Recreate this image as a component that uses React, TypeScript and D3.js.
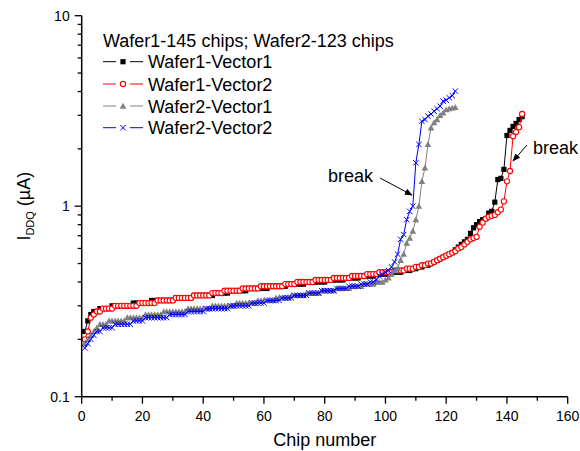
import React from "react";
import * as d3 from "d3";

// ---------- data ----------
const w1v1: number[] = [
  0.22, 0.25, 0.27, 0.28, 0.28, 0.29, 0.29, 0.29, 0.29, 0.30,
  0.30, 0.30, 0.30, 0.30, 0.30, 0.30, 0.31, 0.31, 0.31, 0.31,
  0.31, 0.31, 0.32, 0.32, 0.32, 0.32, 0.32, 0.32, 0.32, 0.32,
  0.33, 0.33, 0.33, 0.33, 0.33, 0.33, 0.34, 0.34, 0.34, 0.34,
  0.34, 0.34, 0.34, 0.35, 0.35, 0.35, 0.35, 0.35, 0.36, 0.36,
  0.36, 0.36, 0.36, 0.36, 0.37, 0.37, 0.37, 0.37, 0.37, 0.37,
  0.37, 0.38, 0.38, 0.38, 0.38, 0.38, 0.38, 0.39, 0.39, 0.39,
  0.39, 0.39, 0.39, 0.40, 0.40, 0.40, 0.40, 0.40, 0.40, 0.40,
  0.41, 0.41, 0.41, 0.41, 0.41, 0.41, 0.42, 0.42, 0.42, 0.42,
  0.42, 0.43, 0.43, 0.43, 0.43, 0.43, 0.44, 0.44, 0.44, 0.44,
  0.44, 0.45, 0.45, 0.45, 0.45, 0.46, 0.46, 0.46, 0.47, 0.47,
  0.48, 0.48, 0.49, 0.49, 0.50, 0.51, 0.52, 0.53, 0.54, 0.55,
  0.56, 0.57, 0.59, 0.61, 0.63, 0.65, 0.67, 0.72, 0.77, 0.80,
  0.83, 0.85, 0.86, 0.92, 0.94, 1.05, 1.38, 1.40, 1.56, 2.35,
  2.50, 2.62, 2.72, 2.85, 2.95,
];

const w1v2: number[] = [
  0.20, 0.22, 0.26, 0.27, 0.28, 0.28, 0.29, 0.29, 0.29, 0.29,
  0.30, 0.30, 0.30, 0.30, 0.30, 0.30, 0.30, 0.30, 0.31, 0.31,
  0.31, 0.31, 0.31, 0.31, 0.32, 0.32, 0.32, 0.32, 0.32, 0.32,
  0.33, 0.33, 0.33, 0.33, 0.33, 0.33, 0.34, 0.34, 0.34, 0.34,
  0.34, 0.34, 0.35, 0.35, 0.35, 0.35, 0.36, 0.36, 0.36, 0.36,
  0.36, 0.36, 0.37, 0.37, 0.37, 0.37, 0.37, 0.37, 0.38, 0.38,
  0.38, 0.38, 0.38, 0.38, 0.38, 0.38, 0.39, 0.39, 0.39, 0.39,
  0.40, 0.40, 0.40, 0.40, 0.40, 0.40, 0.41, 0.41, 0.41, 0.41,
  0.41, 0.41, 0.42, 0.42, 0.42, 0.42, 0.42, 0.42, 0.43, 0.43,
  0.43, 0.43, 0.43, 0.44, 0.44, 0.44, 0.44, 0.45, 0.45, 0.45,
  0.45, 0.45, 0.46, 0.46, 0.46, 0.46, 0.47, 0.47, 0.47, 0.48,
  0.48, 0.49, 0.49, 0.50, 0.50, 0.51, 0.52, 0.53, 0.54, 0.55,
  0.56, 0.57, 0.58, 0.60, 0.61, 0.63, 0.65, 0.67, 0.68, 0.69,
  0.78, 0.82, 0.86, 0.88, 0.89, 0.90, 0.93, 0.96, 1.06, 1.35,
  1.53, 2.33, 2.45, 2.60, 3.05,
];

const w2v1: number[] = [
  0.19, 0.20, 0.21, 0.22, 0.23, 0.24, 0.24, 0.24, 0.25, 0.25,
  0.25, 0.25, 0.25, 0.25, 0.26, 0.26, 0.26, 0.26, 0.26, 0.26,
  0.27, 0.27, 0.27, 0.27, 0.27, 0.27, 0.28, 0.28, 0.28, 0.28,
  0.28, 0.28, 0.28, 0.28, 0.29, 0.29, 0.29, 0.29, 0.29, 0.29,
  0.29, 0.29, 0.30, 0.30, 0.30, 0.30, 0.30, 0.30, 0.30, 0.30,
  0.31, 0.31, 0.31, 0.31, 0.31, 0.31, 0.31, 0.32, 0.32, 0.32,
  0.32, 0.32, 0.32, 0.33, 0.33, 0.33, 0.33, 0.33, 0.34, 0.34,
  0.34, 0.34, 0.34, 0.35, 0.35, 0.35, 0.35, 0.35, 0.36, 0.36,
  0.36, 0.36, 0.36, 0.37, 0.37, 0.37, 0.37, 0.37, 0.38, 0.38,
  0.38, 0.38, 0.39, 0.39, 0.39, 0.39, 0.40, 0.40, 0.40, 0.41,
  0.42, 0.44, 0.46, 0.47, 0.52, 0.56, 0.64, 0.68, 0.74, 0.85,
  1.00, 1.35, 1.59, 2.11, 2.58, 2.75, 2.85, 3.00, 3.09, 3.21,
  3.25, 3.28, 3.30,
];

const w2v2: number[] = [
  0.18, 0.19, 0.20, 0.21, 0.22, 0.22, 0.23, 0.23, 0.23, 0.23,
  0.24, 0.24, 0.24, 0.24, 0.24, 0.24, 0.25, 0.25, 0.25, 0.25,
  0.26, 0.26, 0.26, 0.26, 0.26, 0.26, 0.26, 0.26, 0.27, 0.27,
  0.27, 0.27, 0.27, 0.27, 0.28, 0.28, 0.28, 0.28, 0.28, 0.28,
  0.29, 0.29, 0.29, 0.29, 0.29, 0.29, 0.29, 0.29, 0.30, 0.30,
  0.30, 0.30, 0.30, 0.30, 0.30, 0.31, 0.31, 0.31, 0.31, 0.31,
  0.32, 0.32, 0.32, 0.32, 0.32, 0.33, 0.33, 0.33, 0.33, 0.34,
  0.34, 0.34, 0.34, 0.34, 0.35, 0.35, 0.35, 0.35, 0.36, 0.36,
  0.36, 0.36, 0.36, 0.37, 0.37, 0.37, 0.37, 0.38, 0.38, 0.38,
  0.38, 0.39, 0.39, 0.39, 0.40, 0.40, 0.41, 0.43, 0.44, 0.45,
  0.46, 0.48, 0.51, 0.56, 0.67, 0.71, 0.85, 0.94, 1.00, 1.69,
  2.11, 2.79, 2.85, 2.97, 3.05, 3.15, 3.25, 3.35, 3.56, 3.60,
  3.71, 3.80, 4.02,
];

const xTicks = [0, 20, 40, 60, 80, 100, 120, 140, 160];
const xMinorTicks = [10, 30, 50, 70, 90, 110, 130, 150];
const yTicks = [0.1, 1, 10];
const yTickLabels = ["0.1", "1", "10"];
const yMinorTicks = [0.2, 0.3, 0.4, 0.5, 0.6, 0.7, 0.8, 0.9, 2, 3, 4, 5, 6, 7, 8, 9];

const legendTitle = "Wafer1-145 chips; Wafer2-123 chips";
const seriesNames = ["Wafer1-Vector1", "Wafer1-Vector2", "Wafer2-Vector1", "Wafer2-Vector2"];
const seriesColors = ["#000000", "#ff0000", "#808080", "#0000ff"];
const seriesMarkers = ["square", "circle", "triangle", "cross"];
const seriesData = [w1v1, w1v2, w2v1, w2v2];

// ---------- layout ----------
const W = 580;
const H = 451;
const left = 81.7;
const right = 567.7;
const top = 15.7;
const bottom = 396.7;
const FONT = "Liberation Sans, Arial, Helvetica, sans-serif";

const x = d3.scaleLinear().domain([0, 160]).range([left, right]);
const y = d3.scaleLog().domain([0.1, 10]).range([bottom, top]);

function Marker({ kind, cx, cy, color }: { kind: string; cx: number; cy: number; color: string }) {
  if (kind === "square") {
    return <rect x={cx - 2.6} y={cy - 2.6} width={5.2} height={5.2} fill={color} />;
  }
  if (kind === "circle") {
    return <circle cx={cx} cy={cy} r={2.6} fill="#fff" stroke={color} strokeWidth={1.1} />;
  }
  if (kind === "triangle") {
    const s = 3.3;
    return (
      <path
        d={`M${cx},${cy - s}L${cx + s},${cy + s * 0.8}L${cx - s},${cy + s * 0.8}Z`}
        fill={color}
      />
    );
  }
  const s = 2.7;
  return (
    <path
      d={`M${cx - s},${cy - s}L${cx + s},${cy + s}M${cx - s},${cy + s}L${cx + s},${cy - s}`}
      stroke={color}
      strokeWidth={1}
      fill="none"
    />
  );
}

export default function App() {
  const line = d3
    .line<number>()
    .x((_, i) => x(i + 1))
    .y((v) => y(v));

  const legendRows = [61.7, 84, 106, 127.7];

  return (
    <svg
      width={W}
      height={H}
      style={{ position: "absolute", left: 0, top: 0, background: "#fff" }}
      fontFamily={FONT}
    >
      <defs>
        <marker id="arrow" viewBox="0 0 10 10" refX="9" refY="5" markerWidth="8" markerHeight="8" orient="auto-start-reverse" markerUnits="userSpaceOnUse">
          <path d="M0,1 L10,5 L0,9 Z" fill="#000" />
        </marker>
      </defs>

      {/* series */}
      {seriesData.map((data, si) => (
        <g key={si}>
          <path d={line(data) || ""} fill="none" stroke={seriesColors[si]} strokeWidth={1} />
          {data.map((v, i) => (
            <Marker key={i} kind={seriesMarkers[si]} cx={x(i + 1)} cy={y(v)} color={seriesColors[si]} />
          ))}
        </g>
      ))}

      {/* axes */}
      <line x1={left} x2={right} y1={bottom} y2={bottom} stroke="#000" strokeWidth={1.5} />
      <line x1={left} x2={left} y1={top} y2={bottom} stroke="#000" strokeWidth={1.5} />
      {xTicks.map((t) => (
        <g key={"xt" + t}>
          <line x1={x(t)} x2={x(t)} y1={bottom} y2={bottom + 7} stroke="#000" strokeWidth={1.3} />
          <text x={x(t)} y={bottom + 24} fontSize={14} textAnchor="middle">
            {t}
          </text>
        </g>
      ))}
      {xMinorTicks.map((t) => (
        <line key={"xm" + t} x1={x(t)} x2={x(t)} y1={bottom} y2={bottom + 4} stroke="#000" strokeWidth={1.3} />
      ))}
      {yTicks.map((t, i) => (
        <g key={"yt" + t}>
          <line x1={left - 7} x2={left} y1={y(t)} y2={y(t)} stroke="#000" strokeWidth={1.3} />
          <text x={left - 12} y={y(t) + 5} fontSize={14} textAnchor="end">
            {yTickLabels[i]}
          </text>
        </g>
      ))}
      {yMinorTicks.map((t) => (
        <line key={"ym" + t} x1={left - 4} x2={left} y1={y(t)} y2={y(t)} stroke="#000" strokeWidth={1.3} />
      ))}

      {/* axis titles */}
      <text x={(left + right) / 2} y={446} fontSize={18} textAnchor="middle">
        Chip number
      </text>
      <text transform={`translate(30,${(top + bottom) / 2}) rotate(-90)`} fontSize={18} textAnchor="middle">
        I<tspan fontSize={11} dy={4}>DDQ</tspan>
        <tspan dy={-4}> (µA)</tspan>
      </text>

      {/* legend */}
      <text x={103} y={46.5} fontSize={18}>
        {legendTitle}
      </text>
      {seriesNames.map((name, i) => (
        <g key={name}>
          <line x1={103} x2={116} y1={legendRows[i]} y2={legendRows[i]} stroke={seriesColors[i]} strokeWidth={1} />
          <line x1={130} x2={143} y1={legendRows[i]} y2={legendRows[i]} stroke={seriesColors[i]} strokeWidth={1} />
          <Marker kind={seriesMarkers[i]} cx={123} cy={legendRows[i]} color={seriesColors[i]} />
          <text x={148} y={legendRows[i] + 6.5} fontSize={18}>
            {name}
          </text>
        </g>
      ))}

      {/* annotations */}
      <text x={328} y={181.5} fontSize={18}>break</text>
      <line x1={380} y1={178} x2={412} y2={195} stroke="#000" strokeWidth={1} markerEnd="url(#arrow)" />
      <text x={533} y={154} fontSize={18}>break</text>
      <line x1={527} y1={145} x2={513} y2={161} stroke="#000" strokeWidth={1} markerEnd="url(#arrow)" />
    </svg>
  );
}
